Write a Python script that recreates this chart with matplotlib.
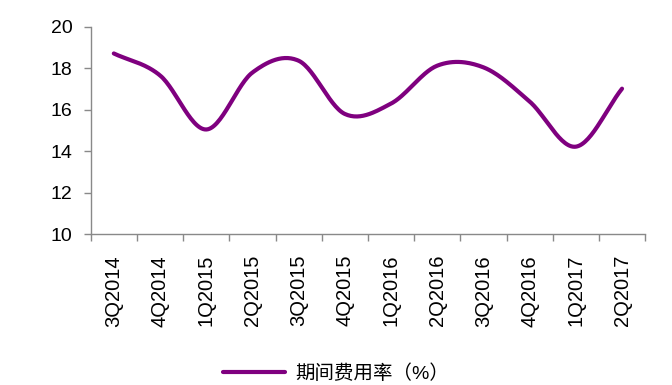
import matplotlib

matplotlib.use("Agg")

import matplotlib.pyplot as plt
import numpy as np

plt.rcParams["font.family"] = ["Liberation Sans", "Noto Sans CJK SC", "DejaVu Sans"]

quarters = ["3Q2014", "4Q2014", "1Q2015", "2Q2015", "3Q2015", "4Q2015",
            "1Q2016", "2Q2016", "3Q2016", "4Q2016", "1Q2017", "2Q2017"]
expense_ratio = [18.72, 17.66, 15.05, 17.8, 18.37, 15.8,
                 16.3, 18.13, 18.05, 16.4, 14.22, 17.02]
series_name = "期间费用率（%）"
y_ticks = [10, 12, 14, 16, 18, 20]


def smooth(xs, ys, n=30):
    # Catmull-Rom style smoothing, like a spreadsheet's smoothed line
    xs = np.asarray(xs, float)
    ys = np.asarray(ys, float)
    px = np.concatenate([[2 * xs[0] - xs[1]], xs, [2 * xs[-1] - xs[-2]]])
    py = np.concatenate([[2 * ys[0] - ys[1]], ys, [2 * ys[-1] - ys[-2]]])
    out_x, out_y = [], []
    t = np.linspace(0, 1, n, endpoint=False)
    for i in range(1, len(px) - 2):
        for arr, out in ((px, out_x), (py, out_y)):
            p0, p1, p2, p3 = arr[i - 1], arr[i], arr[i + 1], arr[i + 2]
            m1 = (p2 - p0) / 2
            m2 = (p3 - p1) / 2
            h00 = 2 * t**3 - 3 * t**2 + 1
            h10 = t**3 - 2 * t**2 + t
            h01 = -2 * t**3 + 3 * t**2
            h11 = t**3 - t**2
            out.extend(h00 * p1 + h10 * m1 + h01 * p2 + h11 * m2)
    out_x.append(xs[-1])
    out_y.append(ys[-1])
    return np.array(out_x), np.array(out_y)


x = np.arange(len(quarters))
sx, sy = smooth(x, expense_ratio)

fig = plt.figure(figsize=(6.72, 3.85), dpi=100)
ax = fig.add_axes([0.135, 0.392, 0.825, 0.538])
line_color = "#7F007F"
ax.plot(sx, sy, color=line_color, lw=3, solid_capstyle="round", label=series_name)

ax.set_xlim(-0.5, len(quarters) - 0.5)
ax.set_ylim(10, 20)
ax.set_yticks(y_ticks)
ax.set_xticks(x)
ax.set_xticklabels(quarters, rotation=90, fontsize=14.5)
ax.set_xticks(np.arange(len(quarters) + 1) - 0.5, minor=True)
ax.tick_params(axis="x", which="major", length=0, pad=15)
ax.tick_params(axis="x", which="minor", length=5, color="#898989", width=1)
ax.tick_params(axis="y", length=5, color="#898989", width=1, labelsize=14, pad=8)

for side in ("top", "right"):
    ax.spines[side].set_visible(False)
for side in ("left", "bottom"):
    ax.spines[side].set_color("#898989")
    ax.spines[side].set_linewidth(1)

fig.legend(loc="lower center", bbox_to_anchor=(0.5, -0.04), frameon=False,
           fontsize=14, handlelength=3.2, handletextpad=0.5)

fig.savefig("out.png", dpi=100)
